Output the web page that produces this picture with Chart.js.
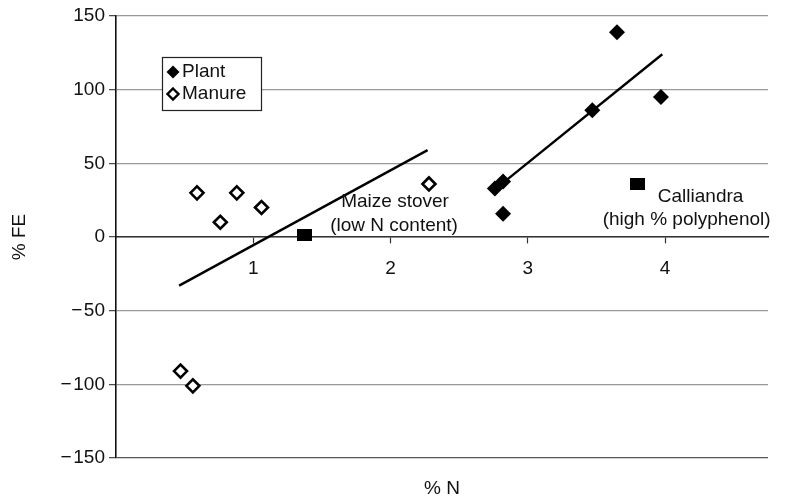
<!DOCTYPE html>
<html>
<head>
<meta charset="utf-8">
<title>% FE vs % N</title>
<script src="https://cdn.jsdelivr.net/npm/chart.js@4.4.1/dist/chart.umd.min.js"></script>
<style>
  html, body { margin: 0; padding: 0; background: #fff; }
  #wrap { width: 799px; height: 502px; }
</style>
</head>
<body>
<div id="wrap"><canvas id="c" width="799" height="502"></canvas></div>
<script>
// Nitrogen content (% N) against fertilizer equivalence (% FE)
const plantN   = [2.76, 2.82, 2.82, 3.47, 3.65, 3.97];
const plantFE  = [33, 37.6, 15.8, 86, 139, 95];
const manureN  = [0.47, 0.56, 0.59, 0.76, 0.88, 1.06, 2.28];
const manureFE = [-91, -101, 30, 10, 30, 20, 36];
const outlierN  = [1.37, 3.80];
const outlierFE = [1.4, 36];
const outlierNames = [["Maize stover", "(low N content)"], ["Calliandra", "(high % polyphenol)"]];
const lowTrendN   = [0.46, 2.27];
const lowTrendFE  = [-33, 59];
const plantTrendN  = [2.77, 3.98];
const plantTrendFE = [33, 124];
const xTicks = [1, 2, 3, 4];
const yTicks = [-150, -100, -50, 0, 50, 100, 150];
const seriesNames = ["Plant", "Manure"];

const FONT = '"Liberation Sans", Arial, Helvetica, sans-serif';
Chart.defaults.font.family = FONT;
Chart.defaults.font.size = 19;
Chart.defaults.color = '#111';

const pairs = (xs, ys) => xs.map((v, i) => ({x: v, y: ys[i]}));

// black rectangle marker for the two highlighted materials
const squareMark = document.createElement('canvas');
squareMark.width = 15; squareMark.height = 12;
(function () { const g = squareMark.getContext('2d'); g.fillStyle = '#000'; g.fillRect(0, 0, 15, 12); })();

// label placement (pixel offsets from each highlighted point, per line)
const labelOffsets = [[[91, -33], [90, -9]], [[63, 13], [49, 36]]];

const pointLabels = {
  id: 'pointLabels',
  afterDatasetsDraw(chart) {
    const {ctx, scales: {x, y}} = chart;
    ctx.save();
    ctx.font = '19px ' + FONT;
    ctx.fillStyle = '#111';
    ctx.textAlign = 'center';
    ctx.textBaseline = 'middle';
    outlierNames.forEach((lines, i) => {
      const px = x.getPixelForValue(outlierN[i]);
      const py = y.getPixelForValue(outlierFE[i]);
      lines.forEach((t, j) => {
        const o = labelOffsets[i][j];
        ctx.fillText(t, px + o[0], py + o[1]);
      });
    });
    ctx.restore();
  }
};

function diamond(ctx, cx, cy, r) {
  ctx.beginPath();
  ctx.moveTo(cx, cy - r); ctx.lineTo(cx + r, cy); ctx.lineTo(cx, cy + r); ctx.lineTo(cx - r, cy);
  ctx.closePath();
}

const boxLegend = {
  id: 'boxLegend',
  afterDatasetsDraw(chart) {
    const {ctx, chartArea: a} = chart;
    const bx = a.left + 46, by = a.top + 41, bw = 99, bh = 53;
    ctx.save();
    ctx.fillStyle = '#fff';
    ctx.fillRect(bx, by, bw, bh);
    ctx.strokeStyle = '#222';
    ctx.lineWidth = 1.2;
    ctx.strokeRect(bx + 0.5, by + 0.5, bw, bh);
    ctx.font = '19px ' + FONT;
    ctx.textBaseline = 'middle';
    ctx.textAlign = 'left';
    ctx.fillStyle = '#111';
    const rows = [by + 15, by + 37];
    // filled diamond
    diamond(ctx, bx + 11, rows[0], 6.5);
    ctx.fillStyle = '#000'; ctx.fill();
    // hollow diamond
    diamond(ctx, bx + 11, rows[1], 5.5);
    ctx.fillStyle = '#fff'; ctx.fill();
    ctx.lineWidth = 2.4; ctx.strokeStyle = '#000'; ctx.stroke();
    ctx.fillStyle = '#111';
    ctx.fillText(seriesNames[0], bx + 20, rows[0]);
    ctx.fillText(seriesNames[1], bx + 20, rows[1]);
    ctx.restore();
  }
};

new Chart(document.getElementById('c'), {
  type: 'scatter',
  data: {
    datasets: [
      { label: 'low trend', data: pairs(lowTrendN, lowTrendFE), showLine: true,
        borderColor: '#000', borderWidth: 2.4, pointRadius: 0, order: 5 },
      { label: 'plant trend', data: pairs(plantTrendN, plantTrendFE), showLine: true,
        borderColor: '#000', borderWidth: 2.4, pointRadius: 0, order: 5 },
      { label: seriesNames[0], data: pairs(plantN, plantFE), pointStyle: 'rectRot',
        pointRadius: 8, backgroundColor: '#000', borderColor: '#000', borderWidth: 0, order: 1 },
      { label: seriesNames[1], data: pairs(manureN, manureFE), pointStyle: 'rectRot',
        pointRadius: 6.5, backgroundColor: '#fff', borderColor: '#000', borderWidth: 2.6, order: 1 },
      { label: 'highlighted', data: pairs(outlierN, outlierFE), pointStyle: squareMark,
        order: 1 }
    ]
  },
  options: {
    responsive: false,
    animation: false,
    devicePixelRatio: 1,
    layout: { padding: { left: 0, top: 16, right: 31, bottom: 0 } },
    plugins: { legend: { display: false }, tooltip: { enabled: false } },
    scales: {
      x: {
        type: 'linear', min: 0, max: 4.75, position: { y: 0 },
        afterBuildTicks: s => { s.ticks = xTicks.map(v => ({value: v})); },
        grid: { drawOnChartArea: false, drawTicks: true, tickLength: 6, tickColor: '#333', tickWidth: 1.2 },
        border: { display: true, color: '#333', width: 1.4 },
        ticks: { padding: 14, color: '#111', maxRotation: 0, autoSkip: false }
      },
      x2: {
        type: 'linear', min: 0, max: 4.75, position: 'bottom',
        grid: { display: false }, border: { display: false }, ticks: { display: false },
        title: { display: true, text: '% N', color: '#111', padding: { top: 0, bottom: 2 } },
        afterFit: s => { s.height = 44; }
      },
      y: {
        type: 'linear', min: -150, max: 150,
        afterBuildTicks: s => { s.ticks = yTicks.map(v => ({value: v})); },
        grid: {
          color: c => (c.tick && c.tick.value === -150) ? '#555' : '#999',
          lineWidth: 1.3, tickLength: 7, tickColor: '#444', tickWidth: 1.2
        },
        border: { color: '#111', width: 1.6 },
        ticks: { padding: 4, color: '#111',
          callback: v => v < 0 ? '\u2212\u200a' + Math.abs(v) : String(v) },
        title: { display: true, text: '% FE', color: '#111', padding: { top: 8, bottom: 0 } },
        afterFit: s => { s.width = 116; }
      }
    }
  },
  plugins: [pointLabels, boxLegend]
});
</script>
</body>
</html>
